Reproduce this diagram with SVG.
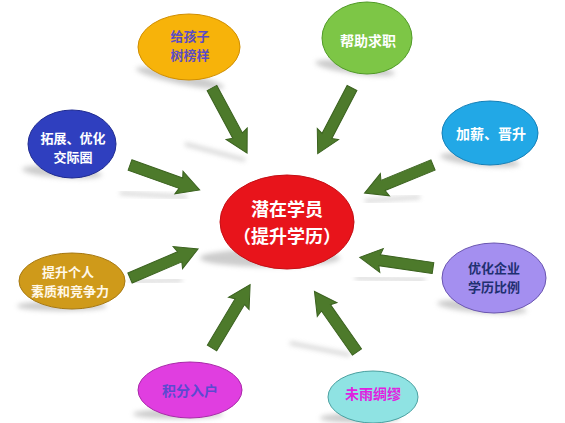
<svg xmlns="http://www.w3.org/2000/svg" width="565" height="423" viewBox="0 0 565 423">
<defs>
<filter id="blur" x="-20%" y="-50%" width="140%" height="200%"><feGaussianBlur stdDeviation="2.5"/></filter>
<path id="arr" d="M0,-5.5 L54,-5.5 L52,-12 L74,0 L52,12 L54,5.5 L0,5.5 Z"/>
</defs>
<style>
.sh{fill:#9a9a9a;opacity:0.5;filter:url(#blur)}
.ash{stroke:#a8a8a8;stroke-width:3;opacity:0.6;filter:url(#blur);fill:none}
.arrow{fill:#4d7a2b;stroke:#3b621f;stroke-width:1}
text{font-family:"Noto Sans CJK SC","Noto Sans",sans-serif;font-weight:bold;text-anchor:middle;dominant-baseline:central}
.t13{font-size:13px}
.t14{font-size:14px}
.t18{font-size:18px}
</style>
<rect width="565" height="423" fill="#ffffff"/>
<g id="shadows">
<ellipse class="sh" cx="180" cy="78" rx="45" ry="6" transform="rotate(12 180 78)"/>
<ellipse class="sh" cx="355" cy="68" rx="40" ry="6" transform="rotate(8 355 68)"/>
<ellipse class="sh" cx="480" cy="160" rx="40" ry="6" transform="rotate(6 480 160)"/>
<ellipse class="sh" cx="62" cy="172" rx="40" ry="6" transform="rotate(4 62 172)"/>
<ellipse class="sh" cx="62" cy="306" rx="45" ry="5"/>
<ellipse class="sh" cx="482" cy="307" rx="45" ry="6" transform="rotate(5 482 307)"/>
<ellipse class="sh" cx="178" cy="414" rx="45" ry="5"/>
<ellipse class="sh" cx="360" cy="418" rx="40" ry="5"/>
<ellipse class="sh" cx="270" cy="258" rx="70" ry="9"/>
</g>
<g id="arrow-shadows">
<path class="ash" d="M185,144 L245,160"/>
<path class="ash" d="M120,193 L187,197"/>
<path class="ash" d="M365,201 L420,197"/>
<path class="ash" d="M130,282 L182,280"/>
<path class="ash" d="M355,278 L425,280"/>
<path class="ash" d="M290,343 L350,355"/>
<path class="ash" d="M190,388 L220,380"/>
</g>
<g id="connectors">
<use href="#arr" class="arrow" transform="translate(212,88) rotate(61.7)"/>
<use href="#arr" class="arrow" transform="translate(352,88) rotate(117.6)"/>
<use href="#arr" class="arrow" transform="translate(433,165) rotate(157.7)"/>
<use href="#arr" class="arrow" transform="translate(130,165) rotate(19.7)"/>
<use href="#arr" class="arrow" transform="translate(130,278) rotate(-23.1)"/>
<use href="#arr" class="arrow" transform="translate(433,268) rotate(-171.7)"/>
<use href="#arr" class="arrow" transform="translate(212,348) rotate(-59)"/>
<use href="#arr" class="arrow" transform="translate(357,352) rotate(-125.1)"/>
</g>
<g id="center">
<ellipse cx="287" cy="222" rx="67" ry="47" fill="#e8141b" stroke="#c50e14" stroke-width="1"/>
<text class="t18" x="287" y="208" fill="#ffffff">潜在学员</text>
<text class="t18" x="287" y="235" fill="#ffffff">（提升学历）</text>
</g>
<g id="n1">
<ellipse cx="189" cy="47" rx="51" ry="33" fill="#f7b30a" stroke="#d08e00" stroke-width="1"/>
<text class="t13" x="190" y="35" fill="#5b4cc4">给孩子</text>
<text class="t13" x="190" y="54" fill="#5b4cc4">树榜样</text>
</g>
<g id="n2">
<ellipse cx="367" cy="38" rx="45" ry="36" fill="#7dc646" stroke="#4f9a25" stroke-width="1"/>
<text class="t14" x="368" y="40" fill="#ffffff">帮助求职</text>
</g>
<g id="n3">
<ellipse cx="490" cy="133" rx="48" ry="32" fill="#22a8e6" stroke="#1480b8" stroke-width="1"/>
<text class="t14" x="491" y="133" fill="#ffffff">加薪、晋升</text>
</g>
<g id="n4">
<ellipse cx="72" cy="144" rx="44" ry="34" fill="#2f3fbf" stroke="#1e2a90" stroke-width="1"/>
<text class="t13" x="73" y="137" fill="#ffffff">拓展、优化</text>
<text class="t13" x="73" y="156" fill="#ffffff">交际圈</text>
</g>
<g id="n5">
<ellipse cx="72" cy="281" rx="53" ry="28" fill="#cf9a1a" stroke="#a67810" stroke-width="1"/>
<text class="t13" x="68" y="271" fill="#fff8e8">提升个人</text>
<text class="t13" x="70" y="290" fill="#fff8e8">素质和竞争力</text>
</g>
<g id="n6">
<ellipse cx="494" cy="278" rx="52" ry="35" fill="#a48ff0" stroke="#6a55b0" stroke-width="1"/>
<text class="t13" x="494" y="267" fill="#1f3070">优化企业</text>
<text class="t13" x="494" y="286" fill="#1f3070">学历比例</text>
</g>
<g id="n7">
<ellipse cx="190" cy="390" rx="52" ry="28" fill="#e03ee0" stroke="#a828a8" stroke-width="1"/>
<text class="t14" x="190" y="390" fill="#5a4ad0">积分入户</text>
</g>
<g id="n8">
<ellipse cx="373" cy="397" rx="45" ry="26" fill="#8fe3e3" stroke="#4aa0a0" stroke-width="1"/>
<text class="t14" x="373" y="393" fill="#e020e0">未雨绸缪</text>
</g>
</svg>
